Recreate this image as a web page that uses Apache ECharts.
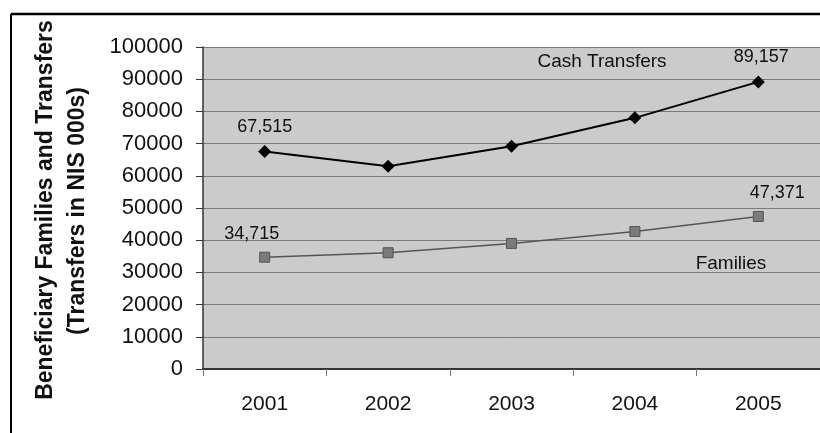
<!DOCTYPE html>
<html>
<head>
<meta charset="utf-8">
<script src="https://cdn.jsdelivr.net/npm/echarts@6/dist/echarts.min.js"></script>
<style>
  html, body { margin: 0; padding: 0; background: #fff; }
  #main { width: 820px; height: 433px; }
</style>
</head>
<body>
<div id="main"></div>
<script>
var years = ['2001', '2002', '2003', '2004', '2005']
var cashTransfers = [67515, 63000, 69200, 78000, 89157]
var families = [34715, 36100, 39000, 42700, 47371]
var yTicks = [0, 100000, 10000] // min, max, interval

var FONT = 'Liberation Sans, Arial, sans-serif'

function fmt(v) {
  return v.toLocaleString('en-US')
}

// only the first and last points carry a value label
function withEndLabels(values, firstOffset, lastOffset) {
  return values.map(function(v, i) {
    if (i === 0 || i === values.length - 1) {
      return {
        value: v,
        label: {
          show: true,
          position: 'top',
          distance: 9,
          offset: i === 0 ? firstOffset : lastOffset,
          formatter: function(p) { return fmt(p.value) },
          fontFamily: FONT,
          fontSize: 18,
          color: '#111'
        }
      }
    }
    return v
  })
}

var myChart = echarts.init(document.getElementById('main'), null, { renderer: 'canvas' })

var option = {
  animation: false,
  backgroundColor: '#fff',
  grid: {
    left: 203,
    right: 0,
    top: 47,
    bottom: 64,
    show: true,
    backgroundColor: '#cbcbcb',
    borderWidth: 0
  },
  xAxis: {
    type: 'category',
    data: years,
    boundaryGap: true,
    axisLine: { lineStyle: { color: '#333', width: 2 } },
    axisTick: { show: true, length: 7, lineStyle: { color: '#777' } },
    axisLabel: { fontFamily: FONT, fontSize: 21, color: '#111', margin: 25 }
  },
  yAxis: {
    type: 'value',
    min: yTicks[0],
    max: yTicks[1],
    interval: yTicks[2],
    axisLine: { show: true, lineStyle: { color: '#333', width: 1.5 } },
    axisTick: { show: true, length: 7, lineStyle: { color: '#333' } },
    axisLabel: {
      fontFamily: FONT, fontSize: 22, color: '#111', margin: 20,
      formatter: function(v) { return String(v) }
    },
    splitLine: { lineStyle: { color: '#7a7a7a', width: 1 } }
  },
  series: [
    {
      name: 'Cash Transfers',
      type: 'line',
      data: withEndLabels(cashTransfers, [0, 0], [3, 0]),
      symbol: 'diamond',
      symbolSize: 13,
      itemStyle: { color: '#000' },
      lineStyle: { color: '#000', width: 2 }
    },
    {
      name: 'Families',
      type: 'line',
      data: withEndLabels(families, [-13, 0], [19, 0]),
      symbol: 'rect',
      symbolSize: 10,
      itemStyle: { color: '#7a7a7a', borderColor: '#555', borderWidth: 1 },
      lineStyle: { color: '#555', width: 1.5 }
    }
  ],
  graphic: [
    // frame of the scanned figure
    { type: 'line', shape: { x1: 11, y1: 14, x2: 820, y2: 14 }, style: { stroke: '#000', lineWidth: 2.5 } },
    { type: 'line', shape: { x1: 11, y1: 14, x2: 11, y2: 433 }, style: { stroke: '#000', lineWidth: 2 } },
    // axis title, two rotated lines
    {
      type: 'text', x: 46, y: 210, rotation: Math.PI / 2,
      style: {
        text: 'Beneficiary Families and Transfers',
        font: 'bold 23px ' + FONT, fill: '#111', align: 'center', verticalAlign: 'middle'
      }
    },
    {
      type: 'text', x: 78, y: 211, rotation: Math.PI / 2,
      style: {
        text: '(Transfers in NIS 000s)',
        font: 'bold 23px ' + FONT, fill: '#111', align: 'center', verticalAlign: 'middle'
      }
    },
    // series names written on the plot
    {
      type: 'text', x: 602, y: 62,
      style: { text: 'Cash Transfers', font: '19px ' + FONT, fill: '#111', align: 'center', verticalAlign: 'middle' }
    },
    {
      type: 'text', x: 731, y: 264,
      style: { text: 'Families', font: '19px ' + FONT, fill: '#111', align: 'center', verticalAlign: 'middle' }
    }
  ]
}

myChart.setOption(option)
</script>
</body>
</html>
